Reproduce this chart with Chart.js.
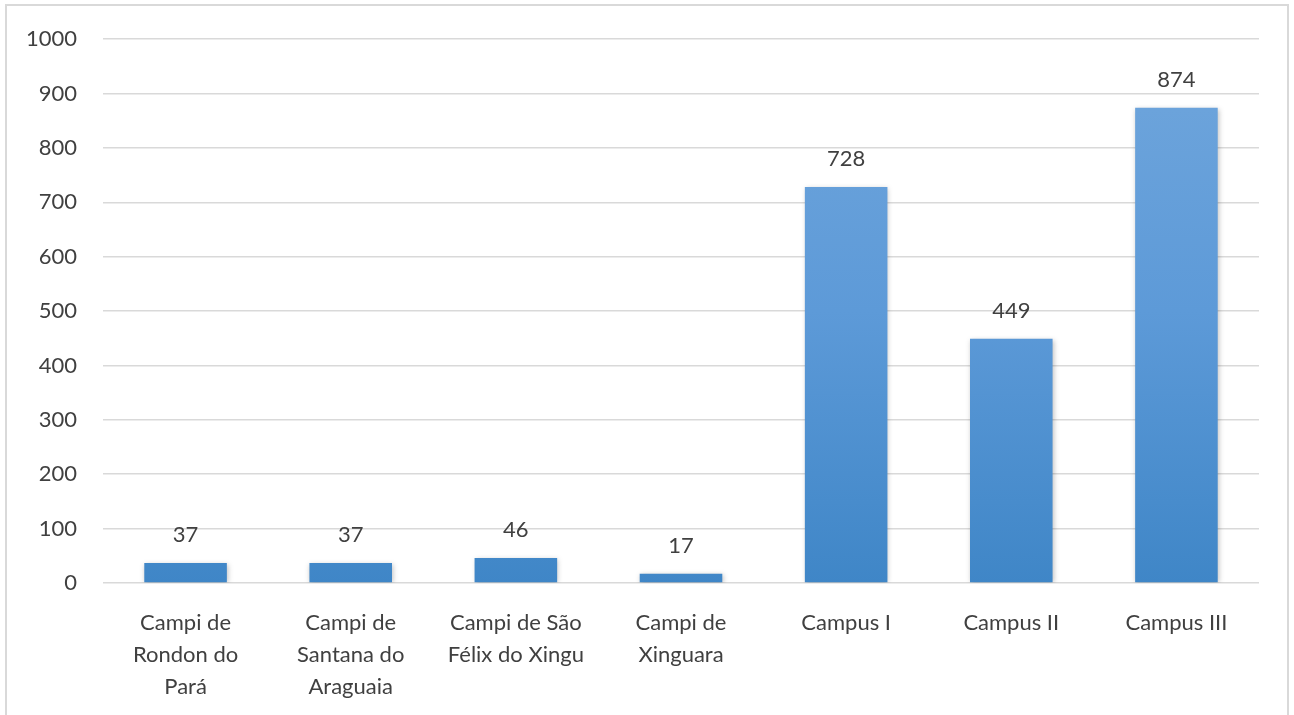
<!DOCTYPE html>
<html>
<head>
<meta charset="utf-8">
<script src="https://cdn.jsdelivr.net/npm/chart.js@4/dist/chart.umd.min.js"></script>
<style>
    html, body { margin: 0; padding: 0; background: #fff; }
    #frame {
        position: absolute; left: 5px; top: 4px; width: 1284px; height: 760px;
        border: 2px solid #d9d9d9; box-sizing: border-box;
    }
    #wrap { position: absolute; left: 0; top: 0; width: 1294px; height: 715px; }
</style>
</head>
<body>
<div id="frame"></div>
<div id="wrap"><canvas id="chart" width="1294" height="715"></canvas></div>
<script>
    // Chart data
    const categories = [
        ['Campi de', 'Rondon do', 'Pará'],
        ['Campi de', 'Santana do', 'Araguaia'],
        ['Campi de São', 'Félix do Xingu'],
        ['Campi de', 'Xinguara'],
        'Campus I',
        'Campus II',
        'Campus III'
    ];
    const values = [37, 37, 46, 17, 728, 449, 874];
    const yTicks = [0, 100, 200, 300, 400, 500, 600, 700, 800, 900, 1000];

    const textColor = '#404040';
    const fontFamily = 'Lato, "Open Sans", sans-serif';

    // Vertical gradient for the bars, lighter at the top
    function barGradient(context) {
        const chart = context.chart;
        const area = chart.chartArea;
        if (!area) {
            return '#5b9bd5';
        }
        const g = chart.ctx.createLinearGradient(0, area.top, 0, area.bottom);
        g.addColorStop(0, '#70a6dc');
        g.addColorStop(0.5, '#5d9ad8');
        g.addColorStop(1, '#3f86c7');
        return g;
    }

    // Value labels drawn above each bar
    const valueLabels = {
        id: 'valueLabels',
        afterDatasetsDraw: function (chart) {
            const ctx = chart.ctx;
            const meta = chart.getDatasetMeta(0);
            ctx.save();
            ctx.font = '22px ' + fontFamily;
            ctx.fillStyle = textColor;
            ctx.textAlign = 'center';
            ctx.textBaseline = 'bottom';
            meta.data.forEach(function (bar, i) {
                ctx.fillText(String(values[i]), bar.x, bar.y - 17);
            });
            ctx.restore();
        }
    };

    // Soft shadow behind the bars
    const barShadow = {
        id: 'barShadow',
        beforeDatasetsDraw: function (chart) {
            chart.ctx.save();
            chart.ctx.shadowColor = 'rgba(0, 0, 0, 0.25)';
            chart.ctx.shadowBlur = 5;
            chart.ctx.shadowOffsetX = 1;
            chart.ctx.shadowOffsetY = 1;
        },
        afterDatasetsDraw: function (chart) {
            chart.ctx.restore();
        }
    };

    new Chart(document.getElementById('chart').getContext('2d'), {
        type: 'bar',
        data: {
            labels: categories,
            datasets: [{
                data: values,
                backgroundColor: barGradient,
                borderWidth: 0,
                categoryPercentage: 1,
                barPercentage: 0.5
            }]
        },
        options: {
            responsive: false,
            animation: false,
            layout: { padding: { top: 32, right: 35, left: 0, bottom: 0 } },
            plugins: {
                legend: { display: false },
                title: { display: false },
                tooltip: { enabled: false }
            },
            scales: {
                x: {
                    grid: { display: false, drawTicks: false },
                    border: { display: false },
                    ticks: {
                        color: textColor,
                        font: { family: fontFamily, size: 22, lineHeight: 1.45 },
                        padding: 24,
                        maxRotation: 0,
                        autoSkip: false
                    },
                    afterFit: function (scale) { scale.height = 132; }
                },
                y: {
                    min: 0,
                    max: 1000,
                    afterBuildTicks: function (scale) {
                        scale.ticks = yTicks.map(function (v) { return { value: v }; });
                    },
                    grid: { color: '#d9d9d9', lineWidth: 1.5, drawTicks: false },
                    border: { display: false },
                    ticks: {
                        color: textColor,
                        font: { family: fontFamily, size: 22 },
                        padding: 26,
                        callback: function (value) { return String(value); }
                    },
                    afterFit: function (scale) { scale.width = 103; }
                }
            }
        },
        plugins: [barShadow, valueLabels]
    });
</script>
</body>
</html>
